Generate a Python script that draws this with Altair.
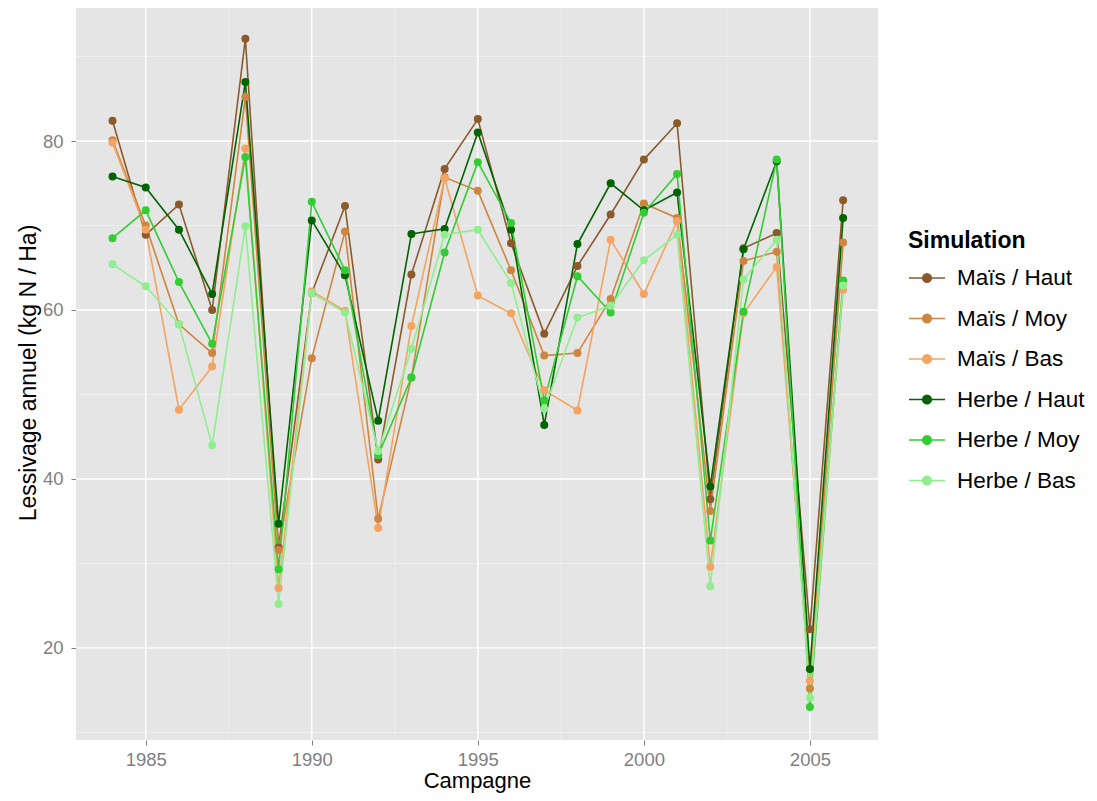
import altair as alt
import pandas as pd

years = list(range(1984, 2007))
series_names = ["Maïs / Haut", "Maïs / Moy", "Maïs / Bas", "Herbe / Haut", "Herbe / Moy", "Herbe / Bas"]
series_colors = ["#8B5A2B", "#CD853F", "#F4A460", "#006400", "#32CD32", "#90EE90"]

mais_haut = [82.4, 68.9, 72.5, 60.0, 92.1, 31.9, 62.0, 72.3, 42.3, 64.2, 76.7, 82.6, 67.9, 57.2, 65.2, 71.3, 77.8, 82.1, 37.6, 67.3, 69.1, 22.2, 73.0]
mais_moy = [80.1, 70.0, 58.3, 54.9, 85.2, 31.6, 54.3, 69.3, 35.3, 52.0, 75.7, 74.1, 64.7, 54.6, 54.9, 61.3, 72.6, 70.9, 36.2, 65.8, 66.9, 15.2, 68.0]
mais_bas = [79.8, 69.5, 48.2, 53.3, 79.1, 27.1, 62.2, 59.9, 34.2, 58.1, 75.6, 61.7, 59.6, 50.5, 48.1, 68.3, 61.9, 70.5, 29.6, 59.6, 65.1, 16.1, 62.4]
herbe_haut = [75.8, 74.5, 69.5, 61.9, 87.0, 34.7, 70.6, 64.1, 46.9, 69.0, 69.6, 81.0, 69.5, 46.4, 67.8, 75.0, 71.8, 73.9, 39.1, 67.2, 77.6, 17.5, 70.9]
herbe_moy = [68.5, 71.8, 63.3, 56.0, 78.1, 29.3, 72.8, 64.7, 42.8, 52.0, 66.8, 77.5, 70.3, 49.3, 64.0, 59.7, 71.5, 76.1, 32.7, 59.8, 77.8, 13.0, 63.5]
herbe_bas = [65.4, 62.8, 58.3, 44.0, 69.9, 25.2, 62.0, 59.7, 43.3, 55.4, 68.9, 69.5, 63.2, 48.3, 59.1, 60.5, 65.9, 68.9, 27.3, 63.6, 68.3, 14.1, 62.9]

x_ticks = [1985, 1990, 1995, 2000, 2005]
x_minor = [1987.5, 1992.5, 1997.5, 2002.5]
y_ticks = [20, 40, 60, 80]
y_minor = [10, 30, 50, 70, 90]

all_series = [mais_haut, mais_moy, mais_bas, herbe_haut, herbe_moy, herbe_bas]
rows = []
for name, vals in zip(series_names, all_series):
    for yr, v in zip(years, vals):
        rows.append({"Campagne": yr, "Lessivage": v, "Simulation": name})
df = pd.DataFrame(rows)

FONT = "Liberation Sans"
xscale = alt.Scale(domain=[1982.9, 2007.05], nice=False, zero=False)
yscale = alt.Scale(domain=[9.1, 96.1], nice=False, zero=False)

xaxis = alt.Axis(
    values=x_ticks, format="d", grid=False, domain=False, tickColor="#7F7F7F", tickSize=5,
    labelColor="#7F7F7F", labelFontSize=18.5, labelFont=FONT, labelPadding=5,
    title="Campagne", titleFontSize=22, titleFont=FONT, titleFontWeight="normal", titleColor="black",
    titlePadding=2,
)
yaxis = alt.Axis(
    values=y_ticks, format="d", grid=False, domain=False, tickColor="#7F7F7F", tickSize=5,
    labelColor="#7F7F7F", labelFontSize=18.5, labelFont=FONT, labelPadding=8,
    title="Lessivage annuel (kg N / Ha)", titleFontSize=23, titleFont=FONT, titleFontWeight="normal",
    titleColor="black", titlePadding=2,
)

color = alt.Color(
    "Simulation:N",
    scale=alt.Scale(domain=series_names, range=series_colors),
    sort=series_names,
    legend=alt.Legend(
        title="Simulation",
        orient="none",
        legendX=832,
        legendY=225,
        symbolType="M-1,0L1,0M0.24,0A0.24,0.24,0,1,1,-0.24,0A0.24,0.24,0,1,1,0.24,0Z",
        symbolSize=1296,
        symbolStrokeWidth=1.6,
        rowPadding=9.5,
        titlePadding=6,
        labelOffset=11,
        labelFontSize=22.5,
        titleFontSize=23,
        titleFontWeight="bold",
        labelFont=FONT,
        titleFont=FONT,
        labelColor="black",
        titleColor="black",
    ),
)

grid_x_minor = alt.Chart(pd.DataFrame({"v": x_minor})).mark_rule(color="#F2F2F2", strokeWidth=0.7).encode(
    x=alt.X("v:Q", scale=xscale, axis=xaxis)
)
grid_y_minor = alt.Chart(pd.DataFrame({"v": y_minor})).mark_rule(color="#F2F2F2", strokeWidth=0.7).encode(
    y=alt.Y("v:Q", scale=yscale, axis=yaxis)
)
grid_x = alt.Chart(pd.DataFrame({"v": x_ticks})).mark_rule(color="white", strokeWidth=1.4).encode(
    x=alt.X("v:Q", scale=xscale, axis=xaxis)
)
grid_y = alt.Chart(pd.DataFrame({"v": y_ticks})).mark_rule(color="white", strokeWidth=1.4).encode(
    y=alt.Y("v:Q", scale=yscale, axis=yaxis)
)

lines = alt.Chart(df).mark_line(strokeWidth=1.6).encode(
    x=alt.X("Campagne:Q", scale=xscale, axis=xaxis),
    y=alt.Y("Lessivage:Q", scale=yscale, axis=yaxis),
    color=color,
)
points = alt.Chart(df).mark_circle(size=64, opacity=1).encode(
    x=alt.X("Campagne:Q", scale=xscale, axis=xaxis),
    y=alt.Y("Lessivage:Q", scale=yscale, axis=yaxis),
    color=color,
)

chart = alt.layer(grid_x_minor, grid_y_minor, grid_x, grid_y, lines, points).properties(
    width=802,
    height=735,
    autosize=alt.AutoSizeParams(type="none"),
    padding={"left": 68, "top": -3, "right": 211, "bottom": 53},
).configure_view(fill="#E5E5E5", stroke=None)

chart.save("out.html", embed_options={"renderer": "svg", "actions": False})
